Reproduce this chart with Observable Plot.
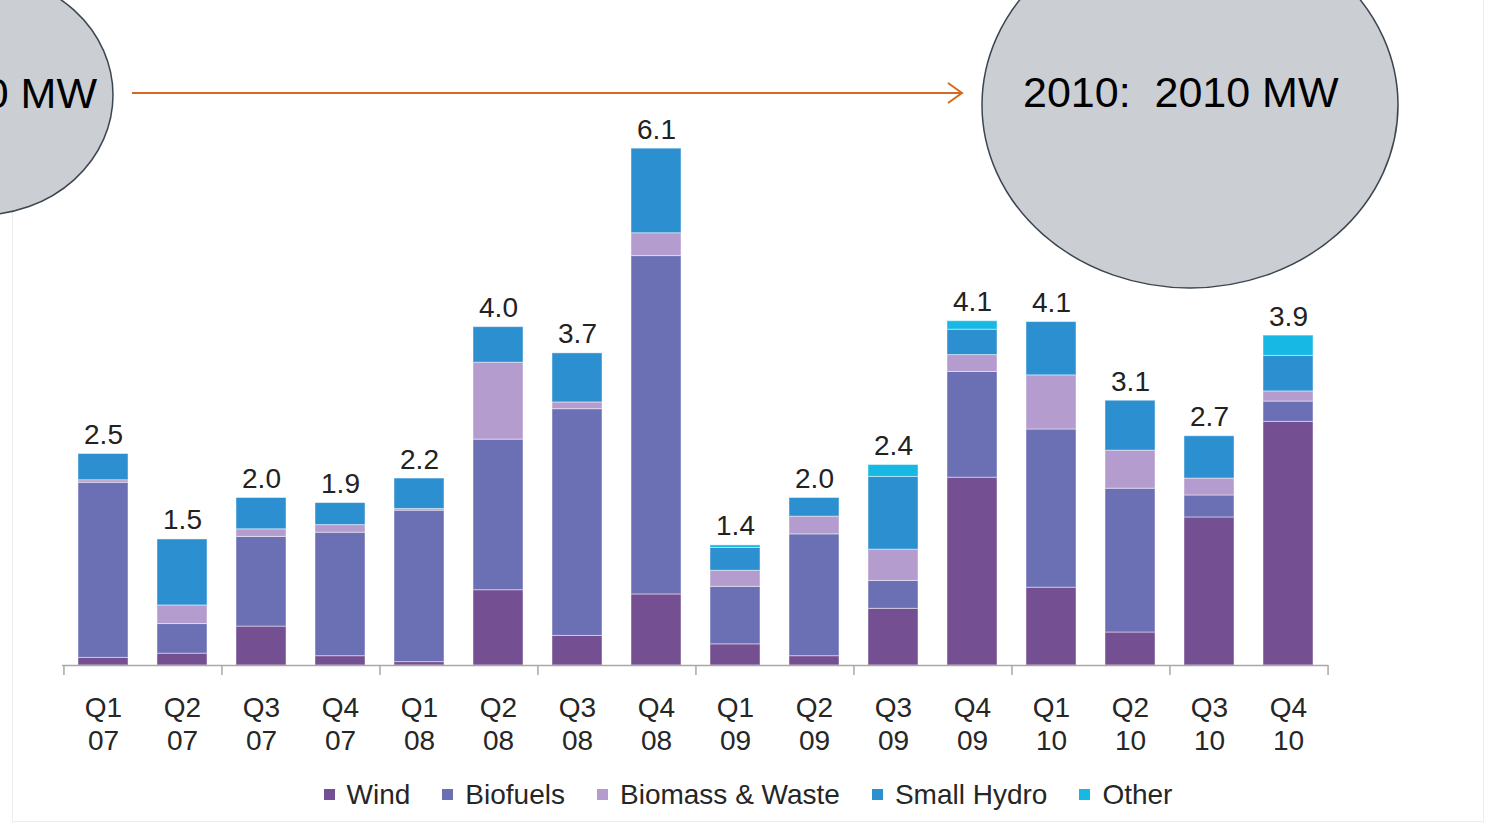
<!DOCTYPE html>
<html>
<head>
<meta charset="utf-8">
<script src="https://cdn.jsdelivr.net/npm/d3@7"></script>
<script src="https://cdn.jsdelivr.net/npm/@observablehq/plot@0.6"></script>
<style>
  html, body { margin: 0; padding: 0; background: #fff; overflow: hidden; }
  #wrap { position: relative; width: 1488px; height: 826px; overflow: hidden; background: #fff;
          font-family: "Liberation Sans", Arial, sans-serif; }
  #frame { position: absolute; left: 12px; top: -2px; width: 1472px; height: 824px;
           border: 1px solid #ededed; box-sizing: border-box; }
  #chart { position: absolute; left: 0; top: 0; }
  #legend { position: absolute; left: 4px; top: 778px; width: 1488px; padding-left: 32px; box-sizing: border-box;
            display: flex; justify-content: center; }
  #overlay { position: absolute; left: 0; top: 0; }
  .lg-swatch { margin-right: 32px !important; }
  .lg-swatch > svg { margin-right: 12px !important; }
</style>
</head>
<body>
<div id="wrap">
  <div id="frame"></div>
  <div id="chart"></div>
  <div id="legend"></div>
  <svg id="overlay" width="1488" height="826" xmlns="http://www.w3.org/2000/svg">
    <ellipse cx="-20" cy="95" rx="133" ry="120" fill="#cbced2" stroke="#3b4651" stroke-width="1.5"/>
    <text x="97" y="108" text-anchor="end" font-size="43" fill="#000" font-family="Liberation Sans, Arial, sans-serif">0 MW</text>
    <line x1="132" y1="93" x2="961" y2="93" stroke="#d4691f" stroke-width="2"/>
    <polyline points="948,83 962,93 948,103" fill="none" stroke="#d4691f" stroke-width="2"/>
    <ellipse cx="1190" cy="105" rx="208" ry="183" fill="#cbced2" stroke="#3b4651" stroke-width="1.5"/>
    <text x="1023" y="107" font-size="43" fill="#000" style="white-space:pre" font-family="Liberation Sans, Arial, sans-serif">2010:  2010 MW</text>
  </svg>
</div>
<script>
// ---- data ----
const quarters = ["Q1 07","Q2 07","Q3 07","Q4 07","Q1 08","Q2 08","Q3 08","Q4 08",
                  "Q1 09","Q2 09","Q3 09","Q4 09","Q1 10","Q2 10","Q3 10","Q4 10"];
const series = ["Wind", "Biofuels", "Biomass & Waste", "Small Hydro", "Other"];
const wind     = [0.09,0.14,0.46,0.11,0.04,0.89,0.35,0.84,0.25,0.11,0.67,2.22,0.92,0.39,1.75,2.88];
const biofuels = [2.07,0.35,1.06,1.46,1.79,1.78,2.68,4.00,0.68,1.44,0.33,1.25,1.87,1.70,0.26,0.24];
const biomass  = [0.03,0.22,0.09,0.09,0.02,0.91,0.08,0.27,0.19,0.21,0.37,0.20,0.64,0.45,0.20,0.12];
const hydro    = [0.31,0.78,0.37,0.26,0.36,0.42,0.58,1.00,0.27,0.22,0.86,0.30,0.63,0.59,0.50,0.42];
const other    = [0,0,0,0,0,0,0,0,0.03,0,0.14,0.10,0,0,0,0.24];
const colors = ["#744f91", "#6b70b4", "#b59cce", "#2b8fd0", "#17b8e3"];

// ---- build ----
const valuesBySeries = [wind, biofuels, biomass, hydro, other];
const rows = quarters.flatMap((q, i) =>
  series.map((s, j) => ({quarter: q, series: s, value: valuesBySeries[j][i]})));
const totals = quarters.map((q, i) => ({quarter: q, total: d3.sum(valuesBySeries, v => v[i])}));
const fmt = d3.format(".1f");

const W = 1488, ML = 62, MR = 160;
const step = (W - ML - MR) / quarters.length;
const pairStarts = quarters.filter((d, i) => i % 2 === 0);
const font = "Liberation Sans, Arial, sans-serif";
const axisGray = "#a8a8a8";

const chart = Plot.plot({
  width: W,
  height: 760,
  marginLeft: ML,
  marginRight: MR,
  marginTop: 149,
  marginBottom: 95,
  style: {fontFamily: font, fontSize: "28px", background: "transparent", color: "#222"},
  x: {domain: quarters, paddingInner: 0.37, paddingOuter: 0.185, label: null},
  y: {domain: [0, 6.1], axis: null},
  color: {domain: series, range: colors},
  marks: [
    Plot.barY(rows, {x: "quarter", y: "value", fill: "series", order: series,
                     stroke: "#ffffff", strokeOpacity: 0.45, strokeWidth: 1}),
    Plot.ruleY([0], {stroke: axisGray, strokeWidth: 1.5}),
    Plot.axisX(pairStarts, {tickSize: 10, text: null, dx: -step / 2, stroke: axisGray, strokeWidth: 1.5}),
    Plot.axisX([quarters[quarters.length - 1]], {tickSize: 10, text: null, dx: step / 2, stroke: axisGray, strokeWidth: 1.5}),
    Plot.axisX({tickSize: 0, tickPadding: 29, tickFormat: d => d.replace(" ", "\n"),
                fontSize: 28, lineHeight: 1.15, fill: "#262626", label: null}),
    Plot.text(totals, {x: "quarter", y: "total", text: d => fmt(d.total),
                       lineAnchor: "bottom", dy: -10, fontSize: 28, fill: "#222"})
  ]
});
document.getElementById("chart").appendChild(chart);

const legend = Plot.legend({
  color: {domain: series, range: colors},
  legend: "swatches",
  className: "lg",
  swatchSize: 11,
  style: {fontFamily: font, fontSize: "28px", color: "#262626"}
});
document.getElementById("legend").appendChild(legend);
</script>
</body>
</html>
